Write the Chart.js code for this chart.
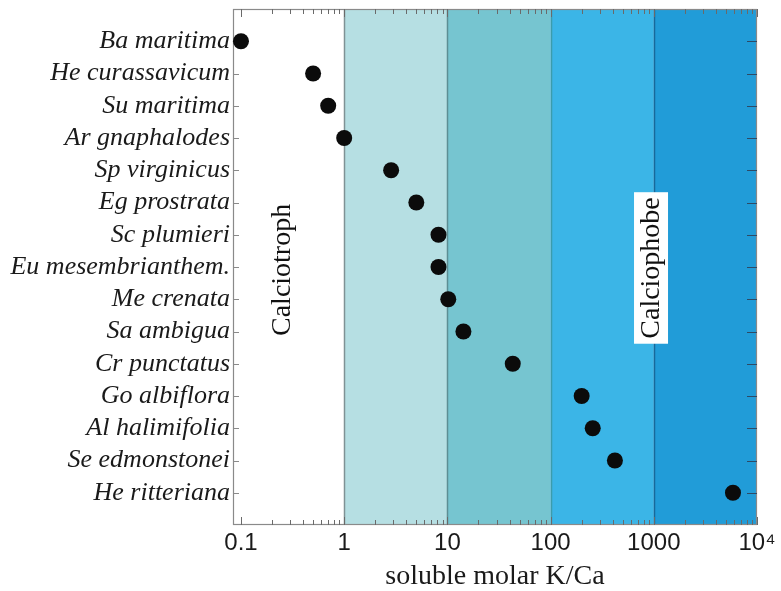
<!DOCTYPE html>
<html>
<head>
<meta charset="utf-8">
<script src="https://cdn.jsdelivr.net/npm/chart.js@4.4.6/dist/chart.umd.min.js"></script>
<style>
  html, body { margin: 0; padding: 0; background: #fff; }
  #wrap { width: 781px; height: 591px; }
</style>
</head>
<body>
<div id="wrap"><canvas id="c" width="781" height="591"></canvas></div>
<script>
// values (soluble molar K/Ca per species)
const species = [
  'Ba maritima', 'He curassavicum', 'Su maritima', 'Ar gnaphalodes',
  'Sp virginicus', 'Eg prostrata', 'Sc plumieri', 'Eu mesembrianthem.',
  'Me crenata', 'Sa ambigua', 'Cr punctatus', 'Go albiflora',
  'Al halimifolia', 'Se edmonstonei', 'He ritteriana',
];
const ratioKCa = [0.1, 0.5, 0.7, 1.0, 2.85, 5.0, 8.2, 8.2, 10.2, 14.3, 43, 200, 256, 420, 5850];

const xMajorTicks = [0.1, 1, 10, 100, 1000, 10000];
const xTickLabels = ['0.1', '1', '10', '100', '1000', '10⁴'];
const bandEdges = [1, 10, 100, 1000, 10000];
const zoneLabels = ['Calciotroph', 'Calciophobe'];
const zoneAt = [[0.247, 7.09], [940, 7.03]]; // [K/Ca, row] of label centre

const SERIF = '"Liberation Serif", "Times New Roman", serif';
const SANS = '"Liberation Sans", Arial, sans-serif';
const BAND_FILLS = ['#b6dfe3', '#76c5d0', '#3bb5e7', '#219cd8'];
const BAND_LINES = ['#7f9295', '#5d8e94', '#3c9cab', '#17699b'];
const FRAME = '#8a8a8a';

const backdrop = {
  id: 'backdrop',
  beforeDatasetsDraw(chart) {
    const { ctx, chartArea: a, scales: { x, y } } = chart;
    ctx.save();
    for (let i = 0; i < bandEdges.length - 1; i++) {
      const x0 = x.getPixelForValue(bandEdges[i]);
      const x1 = x.getPixelForValue(bandEdges[i + 1]);
      ctx.fillStyle = BAND_FILLS[i];
      ctx.fillRect(x0, a.top, x1 - x0, a.bottom - a.top);
    }
    ctx.lineWidth = 1.5;
    bandEdges.slice(0, -1).forEach((v, i) => {
      const px = Math.round(x.getPixelForValue(v)) + 0.5;
      ctx.strokeStyle = BAND_LINES[i];
      ctx.beginPath();
      ctx.moveTo(px, a.top);
      ctx.lineTo(px, a.bottom);
      ctx.stroke();
    });

    // frame
    ctx.lineWidth = 1.2;
    ctx.strokeStyle = FRAME;
    ctx.strokeRect(a.left + 0.5, a.top + 0.5, a.right - a.left - 1, a.bottom - a.top - 1);

    // inward log ticks, top and bottom
    ctx.lineWidth = 1;
    ctx.strokeStyle = '#6a6a6a';
    xMajorTicks.forEach((dec, i) => {
      const marks = i < xMajorTicks.length - 1 ? [1, 2, 3, 4, 5, 6, 7, 8, 9] : [1];
      marks.forEach(m => {
        const px = Math.round(x.getPixelForValue(dec * m)) + 0.5;
        const len = m === 1 ? 8 : 5;
        ctx.beginPath();
        ctx.moveTo(px, a.bottom);
        ctx.lineTo(px, a.bottom - len);
        ctx.moveTo(px, a.top);
        ctx.lineTo(px, a.top + len);
        ctx.stroke();
      });
    });

    // inward row ticks, left and right
    species.forEach((_, i) => {
      const py = Math.round(y.getPixelForValue(i)) + 0.5;
      ctx.strokeStyle = '#8a8a8a';
      ctx.beginPath();
      ctx.moveTo(a.left, py);
      ctx.lineTo(a.left + 6, py);
      ctx.stroke();
      ctx.strokeStyle = '#2c4a66';
      ctx.beginPath();
      ctx.moveTo(a.right, py);
      ctx.lineTo(a.right - 10, py);
      ctx.stroke();
    });

    // rotated zone labels
    ctx.font = '28px ' + SERIF;
    ctx.textAlign = 'center';
    ctx.textBaseline = 'middle';
    zoneLabels.forEach((txt, i) => {
      const cx = x.getPixelForValue(zoneAt[i][0]);
      const cy = y.getPixelForValue(zoneAt[i][1]);
      ctx.save();
      ctx.translate(cx, cy);
      ctx.rotate(-Math.PI / 2);
      if (i === 1) {
        const w = ctx.measureText(txt).width + 10;
        ctx.fillStyle = '#ffffff';
        ctx.fillRect(-w / 2, -17, w, 34);
      }
      ctx.fillStyle = '#111';
      ctx.fillText(txt, 0, 1);
      ctx.restore();
    });
    ctx.restore();
  },
};

new Chart(document.getElementById('c'), {
  type: 'scatter',
  data: {
    datasets: [{
      data: ratioKCa.map((v, i) => ({ x: v, y: i })),
      backgroundColor: '#0b0b0b',
      borderWidth: 0,
      pointRadius: 8,
      pointHoverRadius: 8,
      clip: false,
    }],
  },
  options: {
    responsive: false,
    animation: false,
    events: [],
    layout: { padding: { top: 9, right: 24, left: 0, bottom: 0 } },
    plugins: { legend: { display: false }, tooltip: { enabled: false } },
    scales: {
      x: {
        type: 'logarithmic',
        min: 0.0837,
        max: 10000,
        grid: { display: false, drawTicks: false },
        border: { display: false },
        afterBuildTicks: (s) => { s.ticks = xMajorTicks.map(v => ({ value: v })); },
        afterFit: (s) => { s.height = 66; s.paddingLeft = 0; s.paddingRight = 0; },
        ticks: {
          autoSkip: false,
          maxRotation: 0,
          padding: 4,
          color: '#1a1a1a',
          font: { family: SANS, size: 24 },
          callback: (v, i) => xTickLabels[i],
        },
        title: {
          display: true,
          text: 'soluble molar K/Ca',
          color: '#1a1a1a',
          font: { family: SERIF, size: 28, lineHeight: 1 },
          padding: 0,
        },
      },
      y: {
        type: 'linear',
        min: -1,
        max: 15,
        reverse: true,
        grid: { display: false, drawTicks: false },
        border: { display: false },
        afterBuildTicks: (s) => { s.ticks = species.map((_, i) => ({ value: i })); },
        afterFit: (s) => { s.width = 233; s.paddingTop = 0; s.paddingBottom = 0; },
        ticks: {
          autoSkip: false,
          padding: 3,
          color: '#1a1a1a',
          font: { family: SERIF, size: 26, style: 'italic' },
          callback: (v) => species[v],
        },
      },
    },
  },
  plugins: [backdrop],
});
</script>
</body>
</html>
